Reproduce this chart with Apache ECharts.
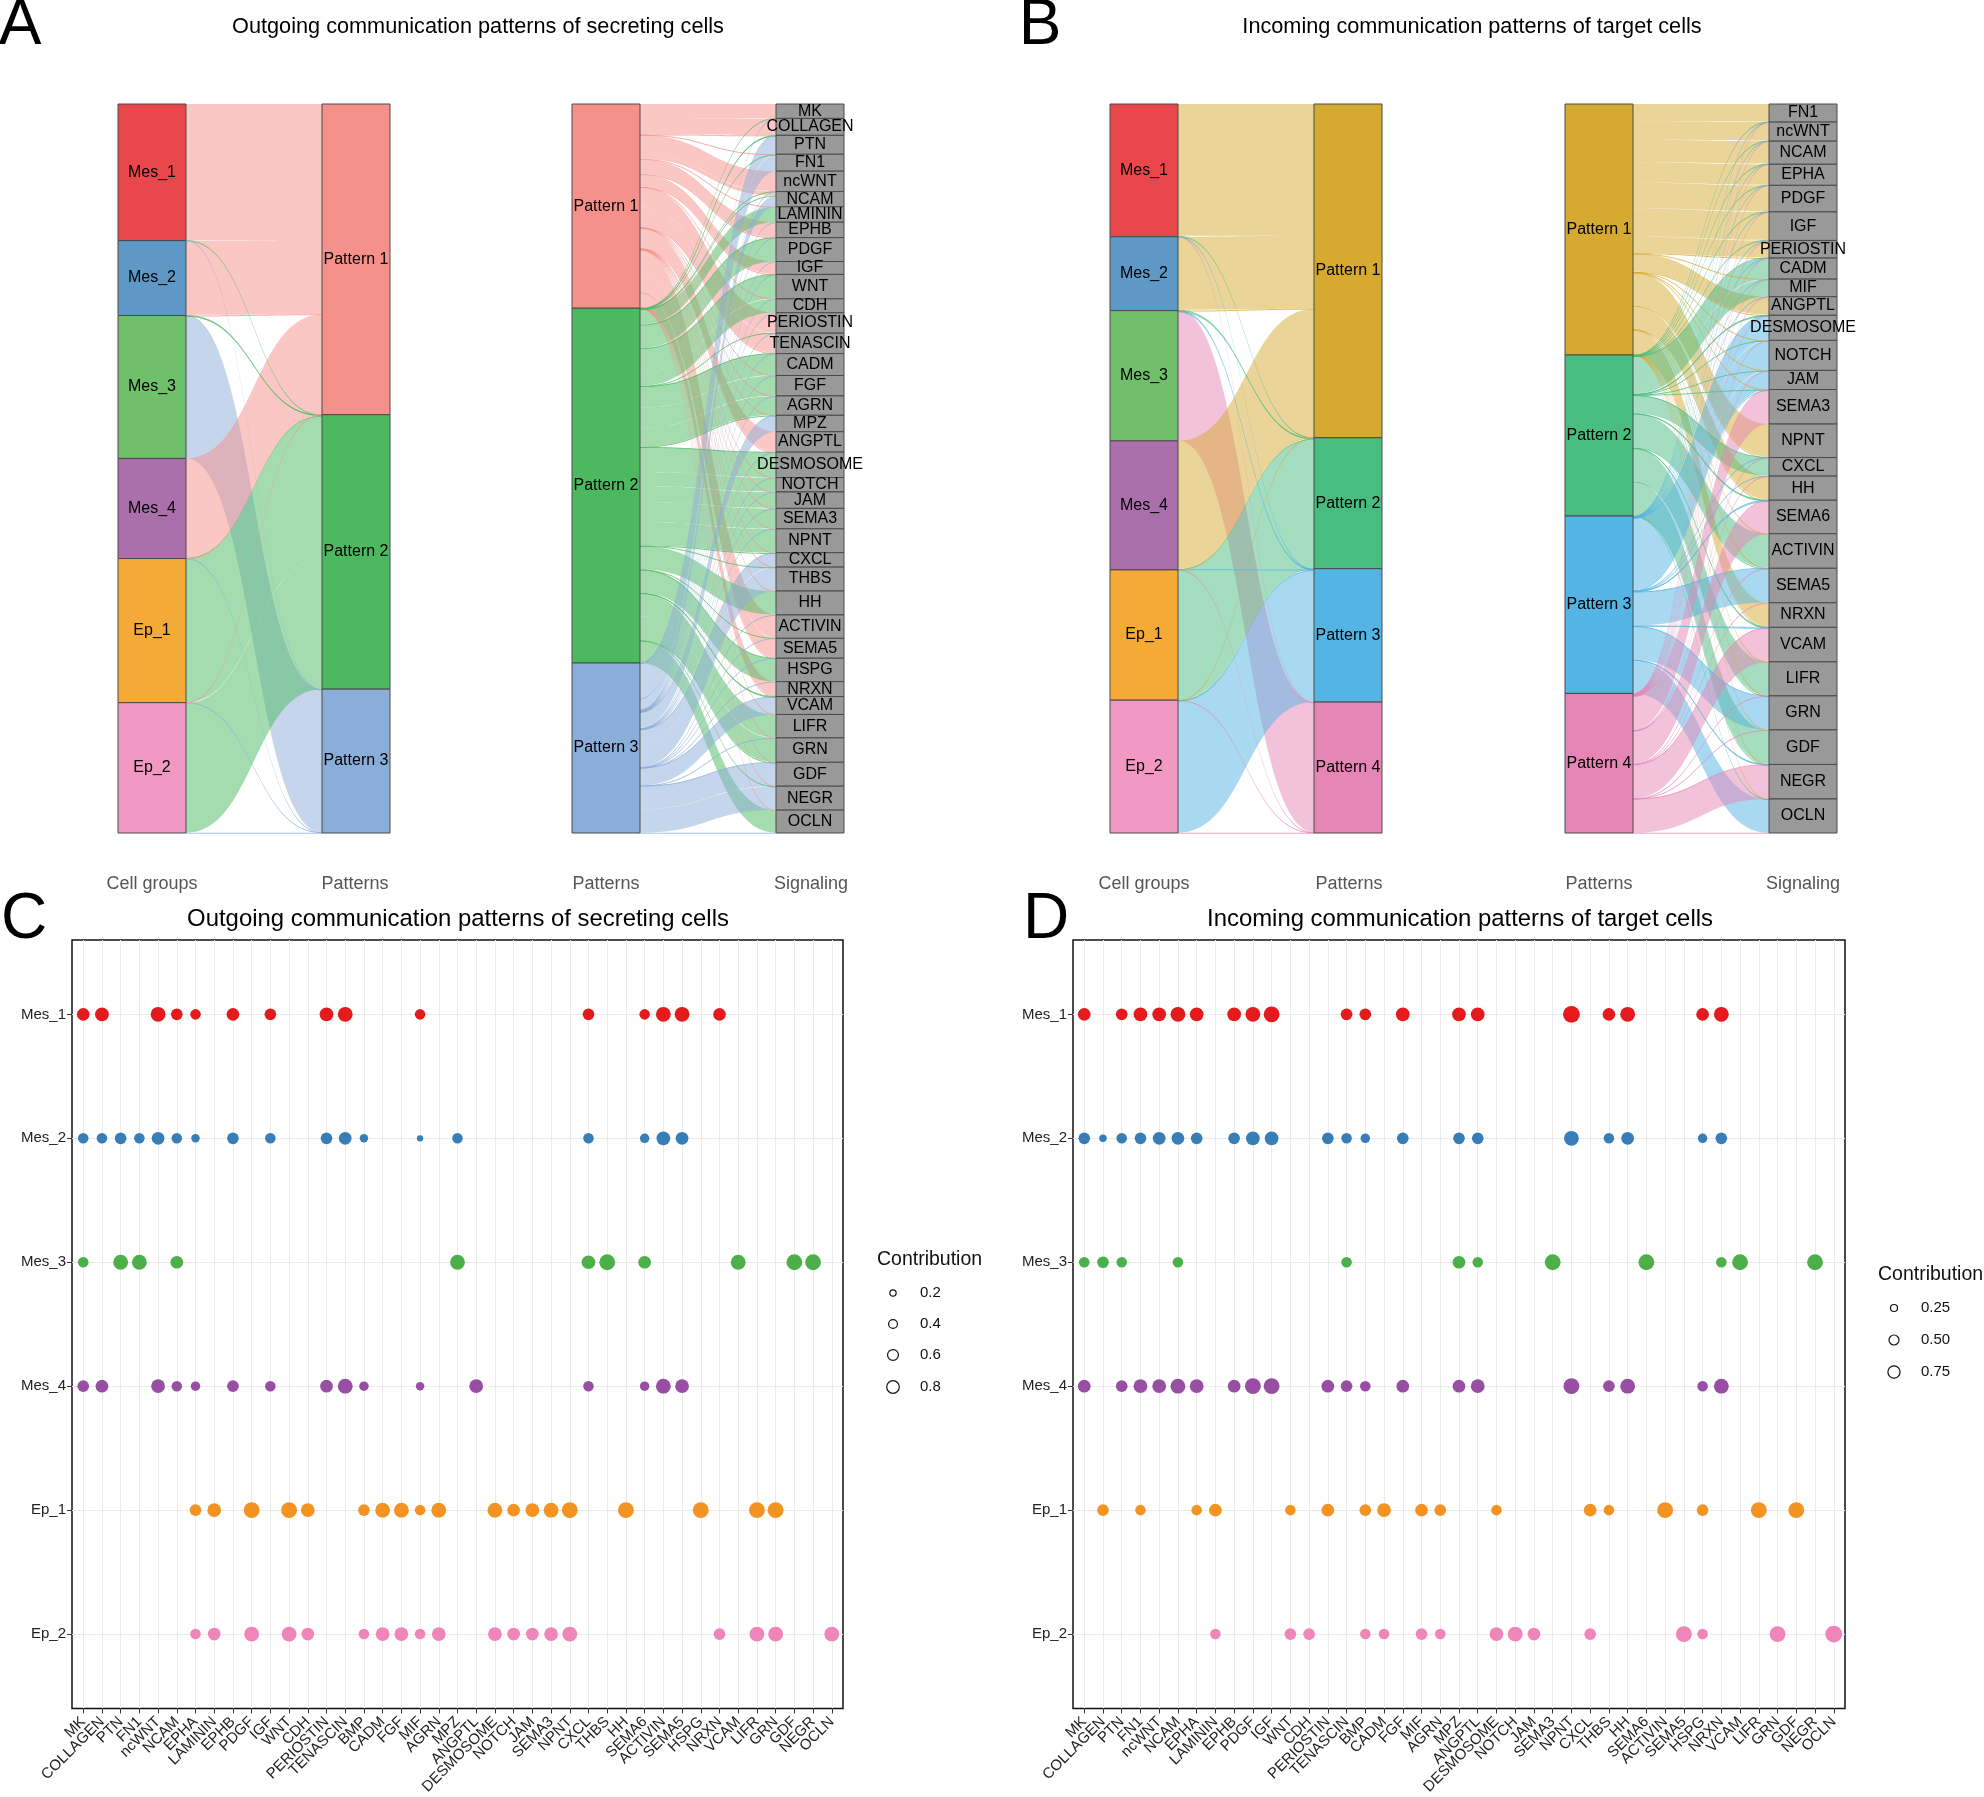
<!DOCTYPE html>
<html><head><meta charset="utf-8">
<script src="https://cdn.jsdelivr.net/npm/echarts@6/dist/echarts.min.js"></script>
<style>html,body{margin:0;padding:0;background:#fff}#chart{width:1984px;height:1797px}</style>
</head><body><div id="chart"></div>
<script>
// ---------------- DATA ----------------
const cellGroups = ['Mes_1','Mes_2','Mes_3','Mes_4','Ep_1','Ep_2'];
const signals = ['MK','COLLAGEN','PTN','FN1','ncWNT','NCAM','EPHA','LAMININ','EPHB','PDGF','IGF','WNT','CDH','PERIOSTIN','TENASCIN','BMP','CADM','FGF','MIF','AGRN','MPZ','ANGPTL','DESMOSOME','NOTCH','JAM','SEMA3','NPNT','CXCL','THBS','HH','SEMA6','ACTIVIN','SEMA5','HSPG','NRXN','VCAM','LIFR','GRN','GDF','NEGR','OCLN'];
const outPatterns = ['Pattern 1','Pattern 2','Pattern 3'];
const inPatterns = ['Pattern 1','Pattern 2','Pattern 3','Pattern 4'];
const outSignals = ['MK','COLLAGEN','PTN','FN1','ncWNT','NCAM','LAMININ','EPHB','PDGF','IGF','WNT','CDH','PERIOSTIN','TENASCIN','CADM','FGF','AGRN','MPZ','ANGPTL','DESMOSOME','NOTCH','JAM','SEMA3','NPNT','CXCL','THBS','HH','ACTIVIN','SEMA5','HSPG','NRXN','VCAM','LIFR','GRN','GDF','NEGR','OCLN'];
const inSignals = ['FN1','ncWNT','NCAM','EPHA','PDGF','IGF','PERIOSTIN','CADM','MIF','ANGPTL','DESMOSOME','NOTCH','JAM','SEMA3','NPNT','CXCL','HH','SEMA6','ACTIVIN','SEMA5','NRXN','VCAM','LIFR','GRN','GDF','NEGR','OCLN'];

// A: cell groups -> outgoing patterns
const outGroupLinks = [['Mes_1','Pattern 1',108],['Mes_2','Pattern 1',59],['Mes_3','Pattern 3',113],['Mes_4','Pattern 1',79],['Ep_1','Pattern 2',114],['Ep_2','Pattern 2',103]];
const outGroupThin = [['Mes_1','Pattern 2'],['Mes_1','Pattern 3'],['Mes_2','Pattern 2'],['Mes_2','Pattern 3'],['Mes_3','Pattern 1'],['Mes_3','Pattern 2'],['Mes_4','Pattern 2'],['Mes_4','Pattern 3'],['Ep_1','Pattern 1'],['Ep_1','Pattern 3'],['Ep_2','Pattern 1'],['Ep_2','Pattern 3']];
// A: outgoing patterns -> signaling
const outP1Links = [['MK',28],['COLLAGEN',33],['ncWNT',40],['NCAM',8],['EPHB',30],['IGF',25],['PERIOSTIN',40],['TENASCIN',40],['ANGPTL',40],['ACTIVIN',46],['SEMA5',39],['NRXN',29]];
const outP2Links = [['LAMININ',30],['PDGF',47],['WNT',48],['CDH',27],['CADM',43],['FGF',40],['AGRN',38],['DESMOSOME',50],['NOTCH',28],['JAM',32],['SEMA3',40],['NPNT',47],['HH',47],['HSPG',46],['LIFR',46],['GRN',48],['OCLN',45]];
const outP3Links = [['PTN',37],['FN1',33],['NCAM',22],['MPZ',32],['CXCL',28],['THBS',47],['VCAM',35],['GDF',47],['NEGR',47]];
const outThinP1 = ['PTN','FN1','LAMININ','PDGF','WNT','CDH','CADM','FGF','AGRN','MPZ','DESMOSOME','NOTCH','JAM','SEMA3','NPNT','CXCL','THBS','HH','HSPG','VCAM','LIFR','GRN','GDF','NEGR','OCLN'];
const outThinP2 = ['MK','COLLAGEN','PTN','FN1','ncWNT','NCAM','EPHB','IGF','PERIOSTIN','TENASCIN','MPZ','ANGPTL','CXCL','THBS','ACTIVIN','SEMA5','NRXN','VCAM','GDF','NEGR'];
const outThinP3 = ['MK','COLLAGEN','ncWNT','LAMININ','EPHB','PDGF','IGF','WNT','CDH','PERIOSTIN','TENASCIN','CADM','FGF','AGRN','ANGPTL','DESMOSOME','NOTCH','JAM','SEMA3','NPNT','HH','ACTIVIN','SEMA5','HSPG','NRXN','LIFR','GRN','OCLN'];

// B: cell groups -> incoming patterns
const inGroupLinks = [['Mes_1','Pattern 1',105],['Mes_2','Pattern 1',58],['Mes_3','Pattern 4',103],['Mes_4','Pattern 1',102],['Ep_1','Pattern 2',103],['Ep_2','Pattern 3',105]];
const inGroupThin = [['Mes_1','Pattern 2'],['Mes_1','Pattern 3'],['Mes_1','Pattern 4'],['Mes_2','Pattern 2'],['Mes_2','Pattern 3'],['Mes_2','Pattern 4'],['Mes_3','Pattern 1'],['Mes_3','Pattern 2'],['Mes_3','Pattern 3'],['Mes_4','Pattern 2'],['Mes_4','Pattern 3'],['Mes_4','Pattern 4'],['Ep_1','Pattern 1'],['Ep_1','Pattern 3'],['Ep_1','Pattern 4'],['Ep_2','Pattern 1'],['Ep_2','Pattern 2'],['Ep_2','Pattern 4']];
// B: incoming patterns -> signaling
const inP1Links = [['FN1',35],['ncWNT',37],['NCAM',45],['EPHA',41],['PDGF',52],['IGF',56],['PERIOSTIN',34],['ANGPTL',36],['NPNT',66],['HH',47],['NRXN',48]];
const inP2Links = [['CADM',41],['MIF',34],['CXCL',36],['ACTIVIN',68],['LIFR',67],['GDF',68]];
const inP3Links = [['DESMOSOME',49],['NOTCH',59],['JAM',37],['SEMA5',68],['GRN',67],['OCLN',67]];
const inP4Links = [['SEMA3',68],['SEMA6',66],['VCAM',68],['NEGR',68]];
const inThinP1 = ['CADM','MIF','DESMOSOME','NOTCH','JAM','SEMA3','CXCL','SEMA6','ACTIVIN','SEMA5','VCAM','LIFR','GRN','GDF','NEGR','OCLN'];
const inThinP2 = ['FN1','ncWNT','NCAM','EPHA','PDGF','IGF','PERIOSTIN','ANGPTL','DESMOSOME','NOTCH','JAM','SEMA3','NPNT','HH','SEMA6','SEMA5','NRXN','VCAM','GRN','NEGR','OCLN'];
const inThinP3 = ['FN1','ncWNT','NCAM','EPHA','PDGF','IGF','PERIOSTIN','CADM','MIF','ANGPTL','SEMA3','NPNT','CXCL','HH','SEMA6','ACTIVIN','NRXN','VCAM','LIFR','GDF','NEGR'];
const inThinP4 = ['FN1','ncWNT','NCAM','EPHA','PDGF','IGF','PERIOSTIN','CADM','MIF','ANGPTL','DESMOSOME','NOTCH','JAM','NPNT','CXCL','HH','ACTIVIN','SEMA5','NRXN','LIFR','GRN','GDF','OCLN'];

// C: outgoing contribution dots
const outMes1 = [['MK',.52],['COLLAGEN',.61],['ncWNT',.71],['NCAM',.44],['EPHA',.36],['EPHB',.52],['IGF',.44],['PERIOSTIN',.61],['TENASCIN',.71],['MIF',.36],['CXCL',.44],['SEMA6',.36],['ACTIVIN',.71],['SEMA5',.71],['NRXN',.52]];
const outMes2 = [['MK',.36],['COLLAGEN',.36],['PTN',.44],['FN1',.36],['ncWNT',.52],['NCAM',.36],['EPHA',.23],['EPHB',.44],['IGF',.36],['PERIOSTIN',.44],['TENASCIN',.52],['BMP',.23],['MIF',.13],['MPZ',.36],['CXCL',.36],['SEMA6',.29],['ACTIVIN',.61],['SEMA5',.52]];
const outMes3 = [['MK',.36],['PTN',.71],['FN1',.71],['NCAM',.52],['MPZ',.71],['CXCL',.61],['THBS',.81],['SEMA6',.52],['VCAM',.71],['GDF',.81],['NEGR',.81]];
const outMes4 = [['MK',.44],['COLLAGEN',.52],['ncWNT',.61],['NCAM',.36],['EPHA',.29],['EPHB',.44],['IGF',.36],['PERIOSTIN',.52],['TENASCIN',.71],['BMP',.29],['MIF',.23],['ANGPTL',.61],['CXCL',.36],['SEMA6',.29],['ACTIVIN',.71],['SEMA5',.61]];
const outEp1 = [['EPHA',.44],['LAMININ',.61],['PDGF',.81],['WNT',.81],['CDH',.61],['BMP',.44],['CADM',.71],['FGF',.71],['MIF',.36],['AGRN',.71],['DESMOSOME',.71],['NOTCH',.52],['JAM',.61],['SEMA3',.71],['NPNT',.81],['HH',.81],['HSPG',.81],['LIFR',.81],['GRN',.81]];
const outEp2 = [['EPHA',.36],['LAMININ',.52],['PDGF',.71],['WNT',.71],['CDH',.52],['BMP',.36],['CADM',.61],['FGF',.61],['MIF',.36],['AGRN',.61],['DESMOSOME',.61],['NOTCH',.52],['JAM',.52],['SEMA3',.61],['NPNT',.71],['NRXN',.44],['LIFR',.71],['GRN',.71],['OCLN',.71]];
// D: incoming contribution dots
const inMes1 = [['MK',.52],['PTN',.44],['FN1',.61],['ncWNT',.61],['NCAM',.71],['EPHA',.61],['EPHB',.61],['PDGF',.71],['IGF',.81],['TENASCIN',.44],['BMP',.44],['FGF',.61],['MPZ',.61],['ANGPTL',.61],['NPNT',.92],['THBS',.52],['HH',.71],['HSPG',.52],['NRXN',.71]];
const inMes2 = [['MK',.44],['COLLAGEN',.18],['PTN',.36],['FN1',.44],['ncWNT',.52],['NCAM',.52],['EPHA',.44],['EPHB',.44],['PDGF',.61],['IGF',.61],['PERIOSTIN',.44],['TENASCIN',.36],['BMP',.29],['FGF',.44],['MPZ',.44],['ANGPTL',.44],['NPNT',.71],['THBS',.36],['HH',.52],['HSPG',.29],['NRXN',.44]];
const inMes3 = [['MK',.36],['COLLAGEN',.44],['PTN',.36],['NCAM',.36],['TENASCIN',.36],['MPZ',.52],['ANGPTL',.36],['SEMA3',.81],['SEMA6',.81],['NRXN',.36],['VCAM',.81],['NEGR',.81]];
const inMes4 = [['MK',.52],['PTN',.44],['FN1',.61],['ncWNT',.61],['NCAM',.71],['EPHA',.61],['EPHB',.52],['PDGF',.81],['IGF',.81],['PERIOSTIN',.52],['TENASCIN',.44],['BMP',.36],['FGF',.52],['MPZ',.52],['ANGPTL',.61],['NPNT',.81],['THBS',.44],['HH',.71],['HSPG',.36],['NRXN',.71]];
const inEp1 = [['COLLAGEN',.44],['FN1',.36],['EPHA',.36],['LAMININ',.52],['WNT',.36],['PERIOSTIN',.52],['BMP',.44],['CADM',.61],['MIF',.52],['AGRN',.44],['DESMOSOME',.36],['CXCL',.52],['THBS',.36],['ACTIVIN',.81],['HSPG',.44],['LIFR',.81],['GDF',.81]];
const inEp2 = [['LAMININ',.36],['WNT',.44],['CDH',.44],['BMP',.36],['CADM',.36],['MIF',.44],['AGRN',.36],['DESMOSOME',.61],['NOTCH',.71],['JAM',.52],['CXCL',.44],['SEMA5',.81],['HSPG',.36],['GRN',.81],['OCLN',.92]];

const outLegendValues = [0.2, 0.4, 0.6, 0.8];
const inLegendValues = [0.25, 0.5, 0.75];
const outLegendLabels = ['0.2','0.4','0.6','0.8'];
const inLegendLabels = ['0.25','0.50','0.75'];

// ---------------- STYLE ----------------
const FONT = '"Liberation Sans", Arial, Helvetica, sans-serif';
const NARROW = '"Liberation Sans Narrow", "Liberation Sans", Arial, sans-serif';
const groupColors = ['#E9474C','#5E98C6','#6FBF6B','#AB70AB','#F5A937','#F199C2'];
const dotColors = ['#E41A1C','#377EB8','#4DAF4A','#984EA3','#F39322','#EF85B8'];
const outPatternColors = ['#F5908A','#4CB960','#8BADDA'];
const inPatternColors = ['#D6AA31','#49BC80','#54B4E4','#E686B5'];
const SIG_COLOR = '#999999';
const THIN_L = 0.25, THIN_R = 0.45;
const PAD = 0.6;

const sizeOf = v => 17.6 * Math.sqrt(v);

function nodeList(names, colors) {
  return names.map((n, i) => ({ name: n, itemStyle: { color: Array.isArray(colors) ? colors[i] : colors } }));
}
function thinLinks(pairs, val) {
  return pairs.map(([s, t]) => ({ source: s, target: t, value: val, lineStyle: { opacity: 0.75 } }));
}
function sankey(left, nodes, links, colorMode) {
  return {
    type: 'sankey', left: left, top: 104, width: 272, height: 729,
    nodeWidth: 68, nodeGap: 0, layoutIterations: 0, draggable: false, silent: true,
    nodeAlign: 'justify',
    label: { show: true, position: 'inside', color: '#000', fontSize: 16, fontFamily: FONT },
    itemStyle: { borderColor: '#4a4a4a', borderWidth: 1 },
    lineStyle: { color: colorMode, opacity: 0.5, curveness: 0.5 },
    emphasis: { disabled: true },
    data: nodes, links: links
  };
}

const aLeft = sankey(118,
  nodeList(cellGroups, groupColors).concat(nodeList(outPatterns, outPatternColors)),
  outGroupLinks.map(([s, t, v]) => ({ source: s, target: t, value: v })).concat(thinLinks(outGroupThin, THIN_L)),
  'target');
const aRight = sankey(572,
  nodeList(outPatterns, outPatternColors).concat(nodeList(outSignals, SIG_COLOR)),
  [].concat(
    outP1Links.map(([t, v]) => ({ source: 'Pattern 1', target: t, value: v })),
    outP2Links.map(([t, v]) => ({ source: 'Pattern 2', target: t, value: v })),
    outP3Links.map(([t, v]) => ({ source: 'Pattern 3', target: t, value: v })),
    thinLinks(outThinP1.map(t => ['Pattern 1', t]), THIN_R),
    thinLinks(outThinP2.map(t => ['Pattern 2', t]), THIN_R),
    thinLinks(outThinP3.map(t => ['Pattern 3', t]), THIN_R)),
  'source');
const bLeft = sankey(1110,
  nodeList(cellGroups, groupColors).concat(nodeList(inPatterns, inPatternColors)),
  inGroupLinks.map(([s, t, v]) => ({ source: s, target: t, value: v })).concat(thinLinks(inGroupThin, THIN_L)),
  'target');
const bRight = sankey(1565,
  nodeList(inPatterns, inPatternColors).concat(nodeList(inSignals, SIG_COLOR)),
  [].concat(
    inP1Links.map(([t, v]) => ({ source: 'Pattern 1', target: t, value: v })),
    inP2Links.map(([t, v]) => ({ source: 'Pattern 2', target: t, value: v })),
    inP3Links.map(([t, v]) => ({ source: 'Pattern 3', target: t, value: v })),
    inP4Links.map(([t, v]) => ({ source: 'Pattern 4', target: t, value: v })),
    thinLinks(inThinP1.map(t => ['Pattern 1', t]), THIN_R),
    thinLinks(inThinP2.map(t => ['Pattern 2', t]), THIN_R),
    thinLinks(inThinP3.map(t => ['Pattern 3', t]), THIN_R),
    thinLinks(inThinP4.map(t => ['Pattern 4', t]), THIN_R)),
  'source');

// dot plots
const sigIdx = signals.map((s, i) => i);
const grpIdx = cellGroups.map((g, i) => i);
const X_MIN = -PAD, X_MAX = signals.length - 1 + PAD;
// label values: padded with the two axis ends (hidden) so that no real label is dropped
const sigLabelValues = [X_MIN].concat(sigIdx, [X_MAX]);

function xLabelAxis(gi) {
  return {
    gridIndex: gi, type: 'value', position: 'bottom', min: X_MIN, max: X_MAX,
    axisLine: { show: false, onZero: false },
    axisTick: { show: false, customValues: sigIdx },
    axisLabel: { customValues: sigLabelValues,
                 formatter: v => (Number.isInteger(v) ? (signals[v] || '') : ''),
                 rotate: 45, fontSize: 15, fontFamily: FONT, color: '#222', margin: 11,
                 showMinLabel: false, showMaxLabel: false, hideOverlap: false },
    splitLine: { show: true, lineStyle: { color: '#EBEBEB', width: 1 } }
  };
}
function xTickAxis(gi) {
  return {
    gridIndex: gi, type: 'value', position: 'bottom', offset: 0, min: X_MIN, max: X_MAX,
    axisLine: { show: false, onZero: false },
    axisTick: { show: true, length: 5, customValues: sigIdx, lineStyle: { color: '#333' } },
    axisLabel: { show: false },
    splitLine: { show: false }
  };
}
function yAxisFor(gi) {
  return {
    gridIndex: gi, type: 'value', position: 'left', inverse: true, min: -PAD, max: cellGroups.length - 1 + PAD,
    axisLine: { show: false, onZero: false },
    axisTick: { show: true, length: 5, customValues: grpIdx, lineStyle: { color: '#333' } },
    axisLabel: { customValues: grpIdx, formatter: v => cellGroups[v] || '', fontSize: 15,
                 fontFamily: FONT, color: '#222', margin: 6, showMinLabel: true, showMaxLabel: true },
    splitLine: { show: true, lineStyle: { color: '#EBEBEB', width: 1 } }
  };
}
function dotSeries(rows, xi, yi) {
  return rows.map((row, r) => ({
    type: 'scatter', name: cellGroups[r], xAxisIndex: xi, yAxisIndex: yi, silent: true,
    itemStyle: { color: dotColors[r], opacity: 1 },
    symbolSize: d => sizeOf(d[2]),
    data: row.map(([sig, v]) => [signals.indexOf(sig), r, v])
  }));
}

// graphic texts / legends
function txt(x, y, text, size, opts) {
  opts = opts || {};
  return { type: 'text', x: x, y: y, silent: true,
    style: { text: text, fill: opts.color || '#000', fontSize: size, fontFamily: opts.family || FONT,
      fontWeight: 'normal',
      textAlign: opts.align || 'center', align: opts.align || 'center',
      textVerticalAlign: 'middle', verticalAlign: 'middle' } };
}
function legend(x, yTitle, ys, values, labels) {
  const els = [txt(x, yTitle, 'Contribution', 19.5, { align: 'left', color: '#111' })];
  values.forEach((v, i) => {
    els.push({ type: 'circle', silent: true, shape: { cx: x + 16, cy: ys[i], r: sizeOf(v) * 0.8 / 2 },
      style: { fill: 'none', stroke: '#111', lineWidth: 1.2 } });
    els.push(txt(x + 43, ys[i], labels[i], 15, { align: 'left', color: '#111' }));
  });
  return els;
}

const graphics = [].concat(
  [txt(20, 26, 'A', 64, { family: NARROW }), txt(1040, 26, 'B', 64, { family: NARROW }),
   txt(24, 920, 'C', 64, { family: NARROW }), txt(1046, 920, 'D', 64, { family: NARROW }),
   txt(478, 27, 'Outgoing communication patterns of secreting cells', 21.7),
   txt(1472, 27, 'Incoming communication patterns of target cells', 21.7),
   txt(458, 919, 'Outgoing communication patterns of secreting cells', 23.9),
   txt(1460, 919, 'Incoming communication patterns of target cells', 23.9),
   txt(152, 884, 'Cell groups', 18, { color: '#555' }), txt(355, 884, 'Patterns', 18, { color: '#555' }),
   txt(606, 884, 'Patterns', 18, { color: '#555' }), txt(811, 884, 'Signaling', 18, { color: '#555' }),
   txt(1144, 884, 'Cell groups', 18, { color: '#555' }), txt(1349, 884, 'Patterns', 18, { color: '#555' }),
   txt(1599, 884, 'Patterns', 18, { color: '#555' }), txt(1803, 884, 'Signaling', 18, { color: '#555' })],
  legend(877, 1260, [1293, 1324, 1355, 1387], outLegendValues, outLegendLabels),
  legend(1878, 1275, [1308, 1340, 1372], inLegendValues, inLegendLabels)
);

const option = {
  animation: false,
  backgroundColor: '#fff',
  textStyle: { fontFamily: FONT },
  grid: [
    { left: 72, top: 940, width: 771, height: 774, show: true, borderColor: '#111', borderWidth: 1.5, backgroundColor: 'transparent', containLabel: false },
    { left: 1073, top: 940, width: 772, height: 774, show: true, borderColor: '#111', borderWidth: 1.5, backgroundColor: 'transparent', containLabel: false }
  ],
  xAxis: [xLabelAxis(0), xTickAxis(0), xLabelAxis(1), xTickAxis(1)],
  yAxis: [yAxisFor(0), yAxisFor(1)],
  series: [aLeft, aRight, bLeft, bRight]
    .concat(dotSeries([outMes1, outMes2, outMes3, outMes4, outEp1, outEp2], 0, 0))
    .concat(dotSeries([inMes1, inMes2, inMes3, inMes4, inEp1, inEp2], 2, 1)),
  graphic: graphics
};
const chart = echarts.init(document.getElementById('chart'), null, { renderer: 'canvas', width: 1984, height: 1797 });
chart.setOption(option);
</script></body></html>
